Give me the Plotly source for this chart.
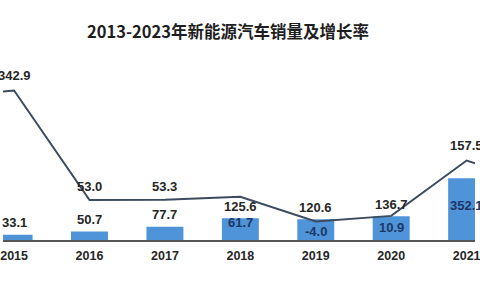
import plotly.graph_objects as go

years = [2013, 2014, 2015, 2016, 2017, 2018, 2019, 2020, 2021, 2022, 2023]
sales = [1.8, 7.5, 33.1, 50.7, 77.7, 125.6, 120.6, 136.7, 352.1, 688.7, 949.5]
growth = [37.9, 324.8, 342.9, 53.0, 53.3, 61.7, -4.0, 10.9, 157.5, 93.4, 37.9]
tick_labels = [str(y) for y in years]
title_text = "2013-2023年新能源汽车销量及增长率"

# label styling (offsets in px, not data)
sales_inside = [False] * 8 + [True] * 3
growth_shift = [14, 14, 15, 13, 13, -26, -10, -12, 15, 14, 14]

BAR = "#4f93d8"
LINE = "#3d4b5f"
FONT = "Liberation Sans, Arial, sans-serif"

fig = go.Figure()
fig.add_trace(go.Bar(x=years, y=sales, width=0.49, marker=dict(color=BAR, line=dict(width=0)),
                     yaxis="y", hoverinfo="skip"))
fig.add_trace(go.Scatter(x=years, y=growth, mode="lines", line=dict(color=LINE, width=2),
                         yaxis="y2", hoverinfo="skip"))

ann = []
for yr, s, ins in zip(years, sales, sales_inside):
    ann.append(dict(x=yr, y=s, xref="x", yref="y", text=f"{s:.1f}", showarrow=False,
                    yshift=-27 if ins else 12,
                    font=dict(family=FONT, size=13, color="#1c3766" if ins else "#262626", weight="bold")))
for yr, g, sh in zip(years, growth, growth_shift):
    ann.append(dict(x=yr, y=g, xref="x", yref="y2", text=f"{g:.1f}", showarrow=False,
                    yshift=sh,
                    font=dict(family=FONT, size=13, color="#1c3766" if sh < 0 else "#262626", weight="bold")))

fig.update_layout(
    width=480, height=300,
    margin=dict(l=0, r=0, t=0, b=0),
    paper_bgcolor="white", plot_bgcolor="white",
    showlegend=False,
    title=dict(text=title_text, x=0.475, xanchor="center", y=1 - 32 / 300, yanchor="middle",
               yref="container",
               font=dict(family="Noto Sans CJK SC", size=16.5, color="#1e1e1e", weight="bold")),
    xaxis=dict(range=[2014.853, 2021.111], tickvals=years, ticktext=tick_labels,
               showgrid=False, zeroline=False, showline=True, linecolor="#555555", linewidth=1.5,
               anchor="free", position=(300 - 240.5) / 300,
               ticks="outside", ticklen=4, tickcolor="rgba(0,0,0,0)",
               ticklabeloverflow="allow",
               tickfont=dict(family=FONT, size=12.5, color="#262626", weight="bold")),
    yaxis=dict(range=[-336, 1358.8], visible=False, showgrid=False, zeroline=False),
    yaxis2=dict(range=[-211.8, 582.5], overlaying="y", visible=False, showgrid=False, zeroline=False),
    annotations=ann,
)

fig.write_html("out.html")
